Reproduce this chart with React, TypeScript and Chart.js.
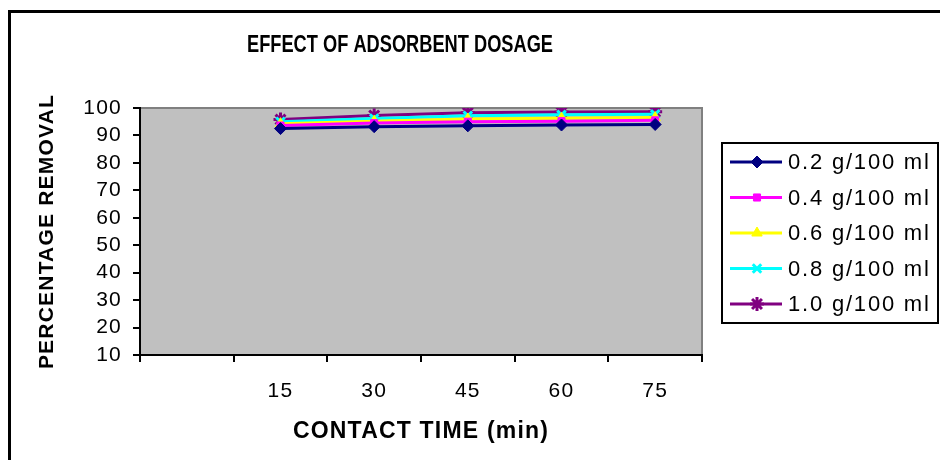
import { useEffect, useRef } from "react";
import { Chart, registerables } from "chart.js";
import { drawPoint } from "chart.js/helpers";

Chart.register(...registerables);

// Contact time categories (first slot left empty)
const timeLabels = ["", "15", "30", "45", "60", "75"];

// Percentage removal for each adsorbent dose
const dose02 = [null, 92.5, 93.2, 93.5, 93.8, 94.0];
const dose04 = [null, 93.6, 94.5, 95.0, 95.2, 95.5];
const dose06 = [null, 94.3, 95.2, 96.0, 96.3, 96.5];
const dose08 = [null, 95.0, 96.2, 97.2, 97.5, 97.7];
const dose10 = [null, 95.8, 97.3, 98.3, 98.5, 98.6];

const seriesNames = ["0.2 g/100 ml", "0.4 g/100 ml", "0.6 g/100 ml", "0.8 g/100 ml", "1.0 g/100 ml"];
const seriesData = [dose02, dose04, dose06, dose08, dose10];
const seriesColors = ["#000080", "#FF00FF", "#FFFF00", "#00FFFF", "#800080"];
const seriesMarkers = ["rectRot", "rect", "triangle", "crossRot", "star"];
const markerSizes = [6, 5, 6, 6, 7];

const yMin = 10;
const yMax = 100;
const yStep = 10;

const FONT = "Arial, 'Liberation Sans', sans-serif";

const decorPlugin = {
  id: "decor",
  beforeDraw(chart: any) {
    const { ctx, chartArea: a } = chart;
    ctx.save();
    ctx.fillStyle = "#ffffff";
    ctx.fillRect(0, 0, chart.width, chart.height);
    ctx.fillStyle = "#C0C0C0";
    ctx.fillRect(a.left, a.top, a.right - a.left, a.bottom - a.top);
    ctx.strokeStyle = "#808080";
    ctx.lineWidth = 2;
    ctx.beginPath();
    ctx.moveTo(a.left, a.top);
    ctx.lineTo(a.right, a.top);
    ctx.lineTo(a.right, a.bottom);
    ctx.stroke();
    ctx.restore();
    ctx.letterSpacing = "1.2px";
  },
  afterDraw(chart: any) {
    const { ctx } = chart;
    ctx.save();
    ctx.letterSpacing = "0px";

    // outer frame
    ctx.strokeStyle = "#000";
    ctx.lineWidth = 3;
    ctx.strokeRect(9.5, 11.5, 1200, 1200);

    // chart title (narrow bold face)
    ctx.save();
    ctx.translate(400, 45);
    ctx.scale(0.76, 1);
    ctx.fillStyle = "#000";
    ctx.font = `bold 24px ${FONT}`;
    ctx.textAlign = "center";
    ctx.textBaseline = "middle";
    ctx.fillText("EFFECT OF ADSORBENT DOSAGE", 0, 0);
    ctx.restore();

    // legend
    ctx.lineWidth = 2;
    ctx.strokeStyle = "#000";
    ctx.strokeRect(722, 143, 216, 180);
    ctx.font = `22px ${FONT}`;
    ctx.letterSpacing = "1.8px";
    ctx.textBaseline = "middle";
    ctx.textAlign = "left";
    chart.data.datasets.forEach((ds: any, i: number) => {
      const y = 162 + i * 35.5;
      ctx.strokeStyle = ds.borderColor;
      ctx.lineWidth = 3;
      ctx.beginPath();
      ctx.moveTo(730, y);
      ctx.lineTo(782, y);
      ctx.stroke();
      ctx.fillStyle = ds.pointBackgroundColor;
      ctx.strokeStyle = ds.pointBorderColor;
      ctx.lineWidth = ds.pointBorderWidth;
      drawPoint(ctx, { pointStyle: ds.pointStyle, radius: ds.pointRadius, borderWidth: ds.pointBorderWidth, rotation: 0 } as any, 757, y);
      ctx.fillStyle = "#000";
      ctx.fillText(ds.label, 788, y + 1);
    });
    ctx.restore();
  },
};

export default function App() {
  const canvasRef = useRef<HTMLCanvasElement | null>(null);

  useEffect(() => {
    const canvas = canvasRef.current;
    if (!canvas) return;
    const chart = new Chart(canvas, {
      type: "line",
      data: {
        labels: timeLabels,
        datasets: seriesData.map((d, i) => ({
          label: seriesNames[i],
          data: d,
          borderColor: seriesColors[i],
          backgroundColor: seriesColors[i],
          borderWidth: 3,
          pointStyle: seriesMarkers[i] as any,
          pointRadius: markerSizes[i],
          pointBackgroundColor: seriesColors[i],
          pointBorderColor: seriesColors[i],
          pointBorderWidth: i >= 3 ? 3 : 1,
          tension: 0,
          fill: false,
        })),
      },
      options: {
        responsive: false,
        animation: false,
        devicePixelRatio: 1,
        layout: { padding: { left: 10, right: 238, top: 108, bottom: 0 } },
        plugins: {
          legend: { display: false },
          title: { display: false },
          tooltip: { enabled: false },
        },
        scales: {
          x: {
            type: "category",
            offset: true,
            grid: { offset: true, drawOnChartArea: false, drawTicks: true, tickLength: 7, color: "#000", lineWidth: 2 },
            border: { display: true, color: "#000", width: 2 },
            ticks: { color: "#000", font: { family: FONT, size: 21 }, padding: 17, maxRotation: 0, autoSkip: false },
            title: {
              display: true,
              text: "CONTACT TIME (min)",
              color: "#000",
              font: { family: FONT, size: 23, weight: "bold" },
              padding: { top: 0, bottom: 15 },
            },
            afterFit: (s: any) => {
              s.height = 105;
            },
          },
          y: {
            min: yMin,
            max: yMax,
            grid: { drawOnChartArea: false, drawTicks: true, tickLength: 7, color: "#000", lineWidth: 2 },
            border: { display: true, color: "#000", width: 2 },
            ticks: { stepSize: yStep, color: "#000", font: { family: FONT, size: 21 }, padding: 11, autoSkip: false },
            title: {
              display: true,
              text: "PERCENTAGE REMOVAL",
              color: "#000",
              font: { family: FONT, size: 21, weight: "bold" },
              padding: { top: 25, bottom: 0 },
            },
            afterFit: (s: any) => {
              s.width = 130;
            },
          },
        },
      } as any,
      plugins: [decorPlugin],
    });
    return () => chart.destroy();
  }, []);

  return (
    <div style={{ position: "absolute", left: 0, top: 0, width: 940, height: 460, background: "#fff" }}>
      <canvas ref={canvasRef} width={940} height={460} style={{ display: "block" }} />
    </div>
  );
}
